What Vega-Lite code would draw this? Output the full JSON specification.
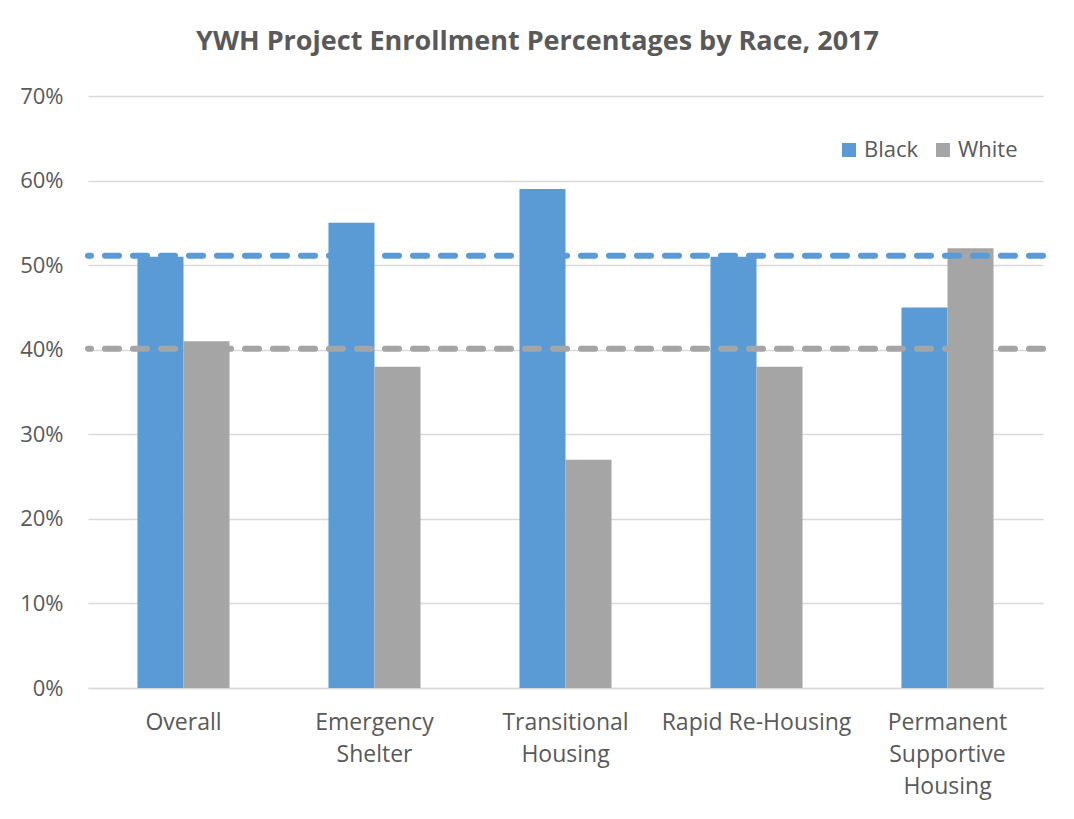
{
  "$schema": "https://vega.github.io/schema/vega-lite/v6.json",
  "width": 955,
  "height": 592,
  "autosize": {"type": "none"},
  "padding": {"left": 88, "top": 96, "right": 31, "bottom": 131},
  "config": {"view": {"stroke": null}, "font": "Open Sans"},
  "title": {
    "text": "YWH Project Enrollment Percentages by Race, 2017",
    "fontSize": 27,
    "fontWeight": "bold",
    "color": "#595959",
    "font": "Open Sans",
    "anchor": "middle",
    "dx": -28,
    "offset": 29
  },
  "datasets": {
    "bars": [
      {"category": "Overall", "race": "Black", "value": 0.51},
      {"category": "Overall", "race": "White", "value": 0.41},
      {"category": "Emergency Shelter", "race": "Black", "value": 0.55},
      {"category": "Emergency Shelter", "race": "White", "value": 0.38},
      {"category": "Transitional Housing", "race": "Black", "value": 0.59},
      {"category": "Transitional Housing", "race": "White", "value": 0.27},
      {"category": "Rapid Re-Housing", "race": "Black", "value": 0.51},
      {"category": "Rapid Re-Housing", "race": "White", "value": 0.38},
      {"category": "Permanent Supportive Housing", "race": "Black", "value": 0.45},
      {"category": "Permanent Supportive Housing", "race": "White", "value": 0.52}
    ],
    "refs": [
      {"race": "Black", "value": 0.511},
      {"race": "White", "value": 0.401}
    ]
  },
  "layer": [
    {
      "data": {"name": "bars"},
      "mark": {"type": "bar"},
      "encoding": {
        "x": {
          "field": "category",
          "type": "nominal",
          "sort": ["Overall", "Emergency Shelter", "Transitional Housing", "Rapid Re-Housing", "Permanent Supportive Housing"],
          "scale": {"paddingInner": 0.518, "paddingOuter": 0.259},
          "axis": {
            "title": null,
            "labelAngle": 0,
            "labelFontSize": 23,
            "labelColor": "#595959",
            "labelPadding": 23,
            "labelLineHeight": 32,
            "labelBaseline": "top",
            "labelLimit": 400,
            "ticks": false,
            "domainColor": "#D9D9D9",
            "domainWidth": 1.5,
            "grid": false,
            "labelExpr": "datum.value == 'Rapid Re-Housing' ? datum.value : split(datum.value, ' ')"
          }
        },
        "xOffset": {"field": "race", "type": "nominal", "sort": ["Black", "White"], "scale": {"paddingInner": 0, "paddingOuter": 0}},
        "y": {
          "field": "value",
          "type": "quantitative",
          "scale": {"domain": [0, 0.7], "nice": false},
          "axis": {
            "title": null,
            "values": [0, 0.1, 0.2, 0.3, 0.4, 0.5, 0.6, 0.7],
            "format": ".0%",
            "labelFontSize": 22,
            "labelColor": "#595959",
            "labelPadding": 25,
            "ticks": false,
            "domain": false,
            "gridColor": "#D9D9D9",
            "gridWidth": 1.5
          }
        },
        "color": {
          "field": "race",
          "type": "nominal",
          "scale": {"domain": ["Black", "White"], "range": ["#5B9BD5", "#A5A5A5"]},
          "legend": {
            "title": null,
            "orient": "none",
            "legendX": 750,
            "legendY": 43,
            "direction": "horizontal",
            "symbolType": "square",
            "symbolSize": 196,
            "symbolStrokeWidth": 0,
            "labelFontSize": 22,
            "labelColor": "#595959",
            "labelOffset": 4,
            "columnPadding": 13,
            "padding": 0
          }
        }
      }
    },
    {
      "data": {"name": "refs"},
      "mark": {"type": "rule", "strokeWidth": 6, "strokeDash": [14, 14], "strokeCap": "round"},
      "encoding": {
        "y": {"field": "value", "type": "quantitative"},
        "color": {"field": "race", "type": "nominal", "legend": null}
      }
    }
  ]
}
